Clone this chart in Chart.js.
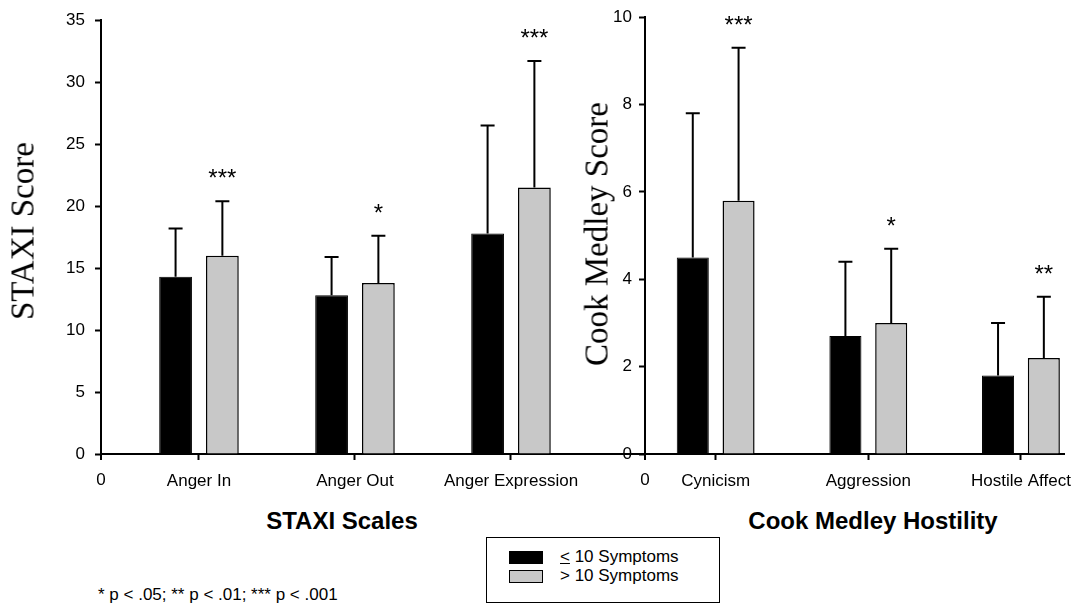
<!DOCTYPE html>
<html lang="en">
<head>
  <meta charset="UTF-8">
  <title>STAXI and Cook Medley scores by symptom group</title>
  <script src="https://cdn.jsdelivr.net/npm/chart.js@4.4.1/dist/chart.umd.min.js"></script>
  <style>
    body {
      margin: 0;
      background: #fff;
      font-family: 'Liberation Sans', Arial, sans-serif;
      color: #000;
    }
    #wrap {
      position: relative;
      width: 1083px;
      height: 609px;
      overflow: hidden;
      background: #fff;
    }
    canvas {
      position: absolute;
      top: 0;
    }
    .y-title {
      position: absolute;
      font-family: 'Liberation Serif', 'Times New Roman', serif;
      font-size: 33px;
      line-height: 1;
      white-space: nowrap;
      transform: translate(-50%, -50%) rotate(-90deg);
    }
    .x-title {
      position: absolute;
      font-weight: bold;
      font-size: 24px;
      line-height: 1;
      white-space: nowrap;
      transform: translate(-50%, -50%);
    }
    #legend {
      position: absolute;
      left: 486px;
      top: 537px;
      width: 234px;
      height: 66px;
      border: 1.5px solid #000;
      box-sizing: border-box;
      font-size: 17px;
    }
    .legend-item {
      position: absolute;
      left: 22px;
      display: flex;
      align-items: center;
      white-space: nowrap;
    }
    .swatch {
      width: 34px;
      height: 13px;
      border: 1px solid #000;
      box-sizing: border-box;
      margin-right: 17px;
    }
    #footnote {
      position: absolute;
      left: 98px;
      top: 585px;
      font-size: 17px;
      white-space: nowrap;
    }
  </style>
</head>
<body>
  <div id="wrap">
    <canvas id="staxiChart" width="660" height="500" style="left:0px"></canvas>
    <canvas id="cookChart" width="523" height="500" style="left:560px"></canvas>

    <div class="y-title" style="left:23px; top:231px">STAXI Score</div>
    <div class="y-title" style="left:597px; top:234px">Cook Medley Score</div>
    <div class="x-title" style="left:342px; top:521px">STAXI Scales</div>
    <div class="x-title" style="left:873px; top:521px">Cook Medley Hostility</div>

    <div id="legend"></div>
    <div id="footnote">* p &lt; .05; ** p &lt; .01; *** p &lt; .001</div>
  </div>

  <script>
    // STAXI scales
    const staxiCategories = ['Anger In', 'Anger Out', 'Anger Expression'];
    const staxiLow = [14.3, 12.8, 17.8];      // <= 10 symptoms, mean
    const staxiLowSd = [3.9, 3.1, 8.7];
    const staxiHigh = [16.0, 13.8, 21.5];     // > 10 symptoms, mean
    const staxiHighSd = [4.4, 3.8, 10.2];
    const staxiSig = ['***', '*', '***'];

    // Cook Medley hostility
    const cookCategories = ['Cynicism', 'Aggression', 'Hostile Affect'];
    const cookLow = [4.5, 2.7, 1.8];
    const cookLowSd = [3.3, 1.7, 1.2];
    const cookHigh = [5.8, 3.0, 2.2];
    const cookHighSd = [3.5, 1.7, 1.4];
    const cookSig = ['***', '*', '**'];

    const groupLabels = ['\u2264 10 Symptoms', '> 10 Symptoms'];
    const groupColors = ['#000000', '#c8c8c8'];

    const tickFont = { family: "'Liberation Sans', Arial, sans-serif", size: 17 };

    // error bars (upper only) + significance stars above the >10 group
    const errorBarPlugin = {
      id: 'errorBars',
      afterDatasetsDraw(chart) {
        const ctx = chart.ctx;
        const yScale = chart.scales.y;
        ctx.save();
        ctx.strokeStyle = '#000';
        ctx.lineWidth = 2;
        chart.data.datasets.forEach((ds, i) => {
          chart.getDatasetMeta(i).data.forEach((bar, j) => {
            const top = yScale.getPixelForValue(ds.data[j].y + ds.sd[j]);
            ctx.beginPath();
            ctx.moveTo(bar.x, bar.y);
            ctx.lineTo(bar.x, top);
            ctx.moveTo(bar.x - 7, top);
            ctx.lineTo(bar.x + 7, top);
            ctx.stroke();
            if (ds.sig) {
              ctx.fillStyle = '#000';
              ctx.font = "24px 'Liberation Sans', Arial, sans-serif";
              ctx.textAlign = 'center';
              ctx.textBaseline = 'alphabetic';
              ctx.fillText(ds.sig[j], bar.x, top - 15);
            }
          });
        });
        ctx.restore();
      }
    };

    // the "0" at the origin of the x axis
    const originLabelPlugin = {
      id: 'originLabel',
      afterDraw(chart) {
        const ctx = chart.ctx;
        const x = chart.scales.x;
        ctx.save();
        ctx.strokeStyle = '#000';
        ctx.lineWidth = 2;
        ctx.beginPath();
        ctx.moveTo(x.left, x.top);
        ctx.lineTo(x.left, x.top + 6);
        ctx.stroke();
        ctx.fillStyle = '#000';
        ctx.font = "17px 'Liberation Sans', Arial, sans-serif";
        ctx.textAlign = 'center';
        ctx.textBaseline = 'middle';
        ctx.fillText('0', x.left, 480);
        ctx.restore();
      }
    };

    function makeChart(canvasId, categories, low, lowSd, high, highSd, sig, yMax, yStep, xMin, xMax, yAxisWidth, padRight, yTickPad) {
      const toPoints = arr => arr.map((v, i) => ({ x: i + 1, y: v }));
      return new Chart(document.getElementById(canvasId), {
        type: 'bar',
        data: {
          datasets: [
            { label: groupLabels[0], data: toPoints(low), sd: lowSd,
              backgroundColor: groupColors[0], borderColor: '#000', borderWidth: 1,
              categoryPercentage: 0.6, barPercentage: 0.7 },
            { label: groupLabels[1], data: toPoints(high), sd: highSd, sig: sig,
              backgroundColor: groupColors[1], borderColor: '#000', borderWidth: 1.5,
              categoryPercentage: 0.6, barPercentage: 0.7 }
          ]
        },
        options: {
          responsive: false,
          animation: false,
          layout: { padding: { top: 16, right: padRight, left: 0, bottom: 0 } },
          plugins: { legend: { display: false }, tooltip: { enabled: false } },
          scales: {
            x: {
              type: 'linear',
              min: xMin,
              max: xMax,
              offset: false,
              afterBuildTicks: s => { s.ticks = categories.map((c, i) => ({ value: i + 1 })); },
              afterFit: s => { s.height = 46; },
              ticks: {
                autoSkip: false,
                maxRotation: 0,
                color: '#000',
                font: tickFont,
                padding: 11,
                callback: v => categories[v - 1]
              },
              grid: { drawOnChartArea: false, offset: false, color: '#000', tickLength: 6, tickWidth: 2 },
              border: { color: '#000', width: 2 }
            },
            y: {
              min: 0,
              max: yMax,
              afterFit: s => { s.width = yAxisWidth; },
              ticks: { stepSize: yStep, color: '#000', font: tickFont, padding: yTickPad },
              grid: { drawOnChartArea: false, color: '#000', tickLength: 6, tickWidth: 2 },
              border: { color: '#000', width: 2 }
            }
          }
        },
        plugins: [errorBarPlugin, originLabelPlugin]
      });
    }

    makeChart('staxiChart', staxiCategories, staxiLow, staxiLowSd, staxiHigh, staxiHighSd, staxiSig,
      35, 5, 0.372, 3.859, 101, 15, 10);
    makeChart('cookChart', cookCategories, cookLow, cookLowSd, cookHigh, cookHighSd, cookSig,
      10, 2, 0.537, 3.283, 85, 11, 7);

    // shared legend
    const legend = document.getElementById('legend');
    groupLabels.forEach((label, i) => {
      const item = document.createElement('div');
      item.className = 'legend-item';
      item.style.top = (9 + i * 19) + 'px';
      const sw = document.createElement('span');
      sw.className = 'swatch';
      sw.style.background = groupColors[i];
      const txt = document.createElement('span');
      if (i === 0) {
        txt.innerHTML = '<u>&lt;</u> 10 Symptoms';
      } else {
        txt.textContent = label;
      }
      item.appendChild(sw);
      item.appendChild(txt);
      legend.appendChild(item);
    });
  </script>
</body>
</html>
